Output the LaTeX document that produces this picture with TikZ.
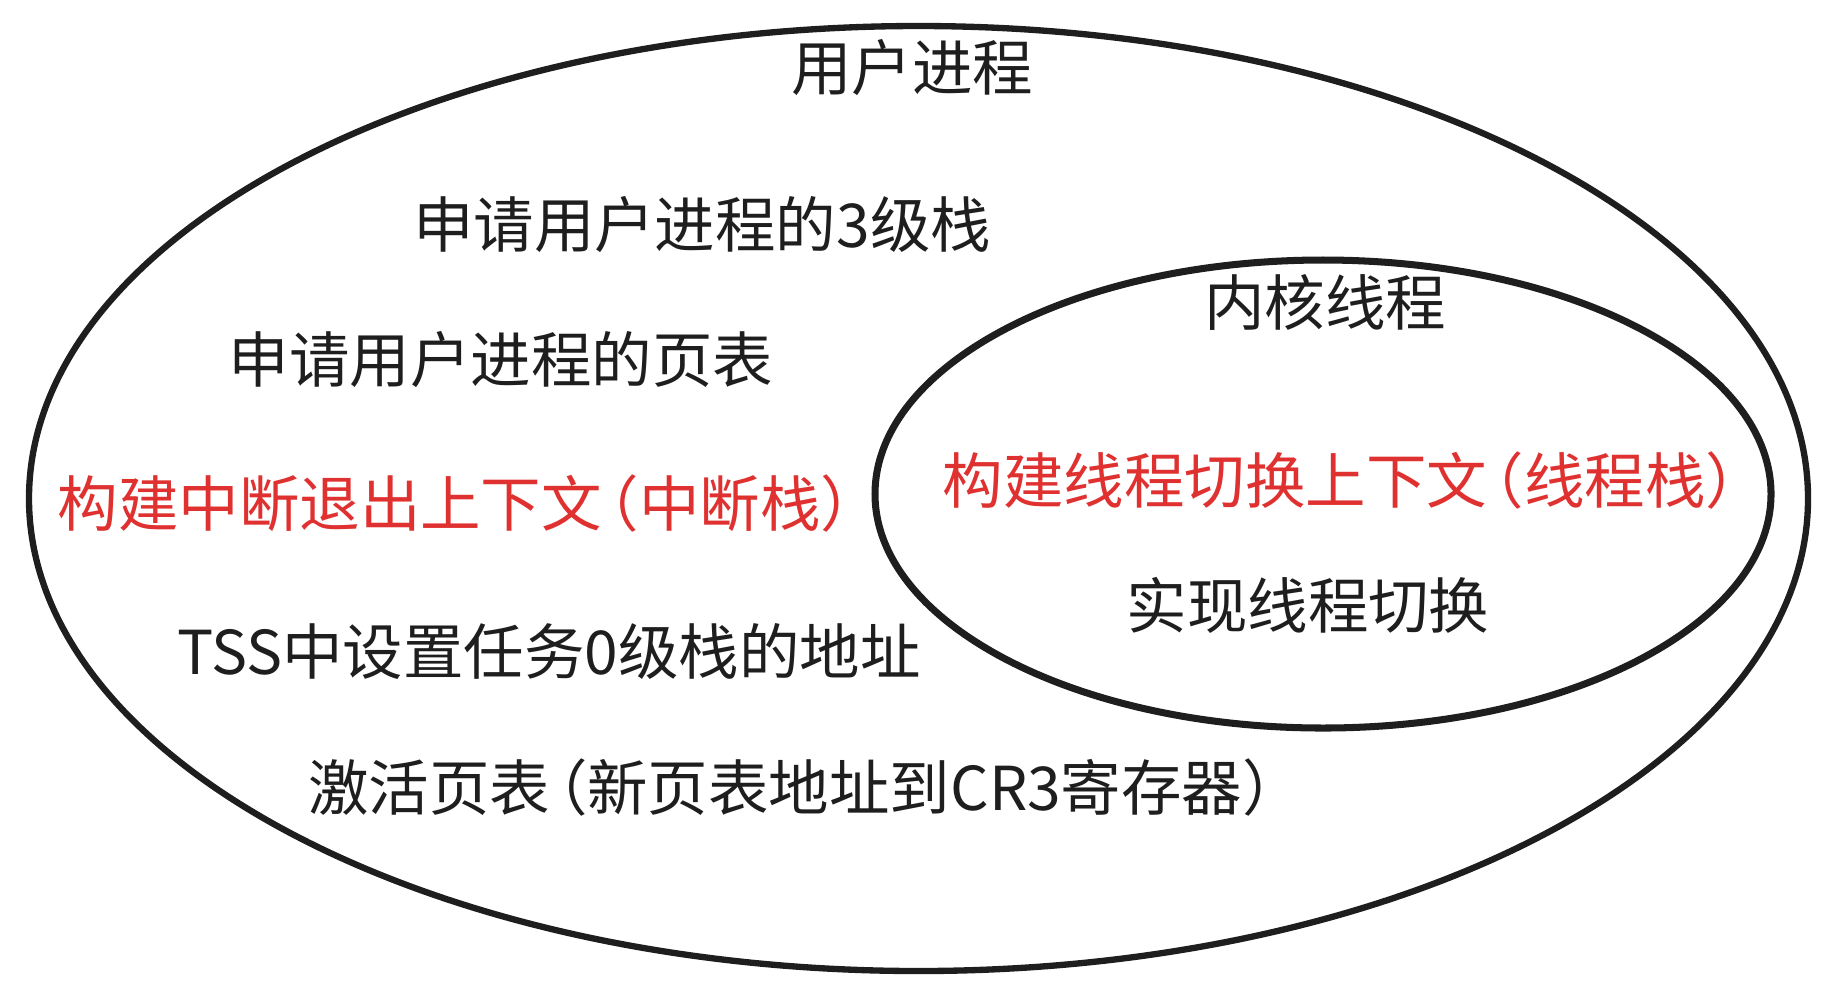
\documentclass[tikz,border=0pt]{standalone}
\usepackage{fontspec}
\newfontfamily\cjk{Noto Sans CJK SC}
\definecolor{ink}{HTML}{1E1E1E}
\definecolor{redink}{HTML}{E03131}
\newcommand{\lp}{\kern-0.38em（}
\newcommand{\rp}{）\kern-0.38em}
\begin{document}
\begin{tikzpicture}[x=0.01cm,y=-0.01cm,
  lbl/.style={inner sep=0pt,anchor=center,font=\cjk\fontsize{17.2pt}{20pt}\selectfont,text=ink},
  redlbl/.style={lbl,text=redink},
  ring/.style={draw=ink,line width=1.8pt}]
\useasboundingbox (0,0) rectangle (1834,999);
\draw[ring] (918.5,498.5) ellipse [x radius=889.5,y radius=472.5];
\draw[ring,line width=2pt] (1323,494) ellipse [x radius=448,y radius=234];
\node[lbl] (user) at (912,68) {用户进程};
\node[lbl] (s3) at (702,225) {申请用户进程的3级栈};
\node[lbl] (pt) at (501,360) {申请用户进程的页表};
\node[redlbl] (intr) at (458,503) {构建中断退出上下文\lp 中断栈\rp};
\node[lbl] (tss) at (549,651) {TSS中设置任务0级栈的地址};
\node[lbl] (cr3) at (794,787) {激活页表\lp 新页表地址到CR3寄存器\rp};
\node[lbl] (kt) at (1325,302) {内核线程};
\node[redlbl] (ctx) at (1343,480) {构建线程切换上下文\lp 线程栈\rp};
\node[lbl] (sw) at (1308,605) {实现线程切换};
\end{tikzpicture}
\end{document}
